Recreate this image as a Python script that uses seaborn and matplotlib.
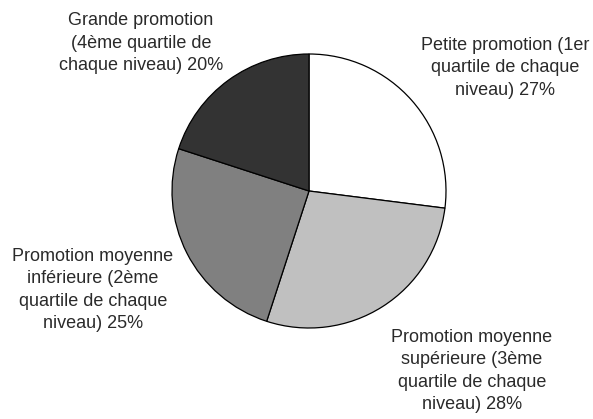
import matplotlib.pyplot as plt
import seaborn as sns

labels = [
    "Petite promotion (1er\nquartile de chaque\nniveau) 27%",
    "Promotion moyenne\nsupérieure (3ème\nquartile de chaque\nniveau) 28%",
    "Promotion moyenne\ninférieure (2ème\nquartile de chaque\nniveau) 25%",
    "Grande promotion\n(4ème quartile de\nchaque niveau) 20%",
]
shares = [27, 28, 25, 20]
colors = ["#ffffff", "#c0c0c0", "#808080", "#333333"]
# label anchor points, in pixels from the top-left corner
label_pos = [(505, 68), (472, 371), (93, 290), (141, 43)]

sns.set_style("white")
plt.rcParams["font.family"] = ["Liberation Sans", "DejaVu Sans"]

W, H = 593, 419
fig = plt.figure(figsize=(W / 100, H / 100), dpi=100)
ax = fig.add_axes([0, 0, 1, 1])
ax.pie(
    shares,
    colors=colors,
    startangle=90,
    counterclock=False,
    center=(309, H - 191),
    radius=137,
    wedgeprops={"edgecolor": "black", "linewidth": 0.9},
)
for text, (x, y) in zip(labels, label_pos):
    ax.text(x, H - y, text, ha="center", va="center", fontsize=13,
            linespacing=1.42, color="#2a2a2a")
ax.set_xlim(0, W)
ax.set_ylim(0, H)
ax.set_aspect("equal")
ax.axis("off")

plt.savefig("out.png", dpi=100)
plt.close()
